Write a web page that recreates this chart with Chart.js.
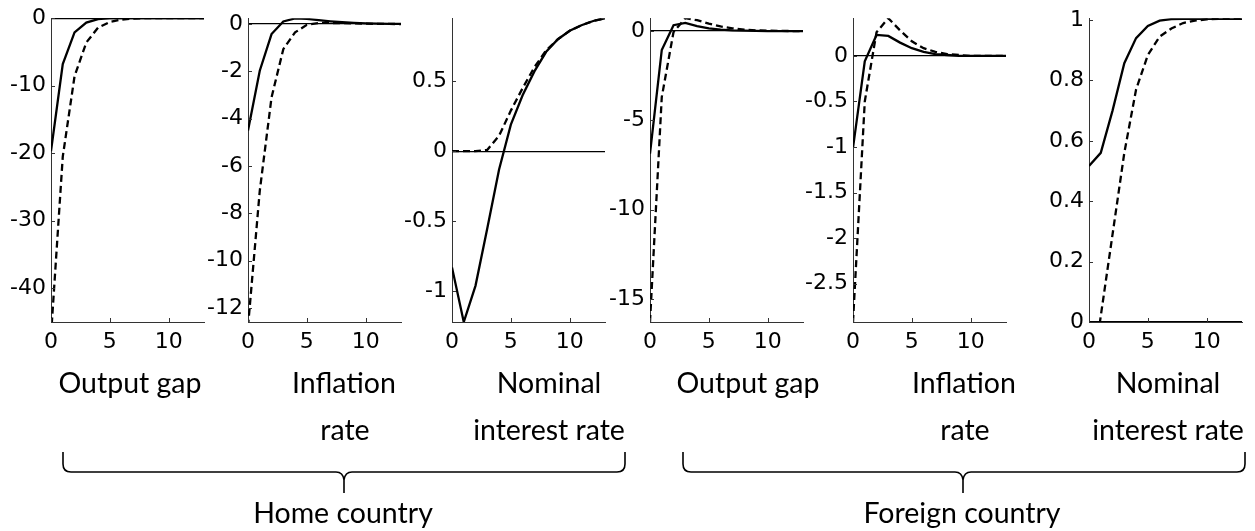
<!DOCTYPE html>
<html>
<head>
<meta charset="utf-8">
<script src="https://cdn.jsdelivr.net/npm/chart.js@4.4.0/dist/chart.umd.min.js"></script>
<style>
  html, body { margin: 0; padding: 0; background: #fff; }
  #wrap { position: relative; width: 1255px; height: 531px; overflow: hidden; }
  #wrap canvas { position: absolute; top: 0; }
  #labels { position: absolute; left: 0; top: 0; }
  #labels text { font-family: Lato, "Open Sans", sans-serif; font-size: 28.5px; fill: #000; }
</style>
</head>
<body>
<div id="wrap">
  <svg id="labels" width="1255" height="531">
    <text x="130" y="393" text-anchor="middle">Output gap</text>
    <text x="344" y="393" text-anchor="middle">Inflation</text>
    <text x="345" y="440" text-anchor="middle">rate</text>
    <text x="549" y="393" text-anchor="middle">Nominal</text>
    <text x="549" y="440" text-anchor="middle">interest rate</text>
    <text x="748" y="393" text-anchor="middle">Output gap</text>
    <text x="964" y="393" text-anchor="middle">Inflation</text>
    <text x="965" y="440" text-anchor="middle">rate</text>
    <text x="1168" y="393" text-anchor="middle">Nominal</text>
    <text x="1168" y="440" text-anchor="middle">interest rate</text>
    <text x="343" y="523" text-anchor="middle">Home country</text>
    <text x="962" y="523" text-anchor="middle">Foreign country</text>
    <path fill="none" stroke="#000" stroke-width="1.6"
      d="M63,452 L63,464 Q63,472 71,472 L336,472 Q343,472 344,480 L344,493 M344,480 Q345,472 352,472 L617,472 Q625,472 625,464 L625,452" />
    <path fill="none" stroke="#000" stroke-width="1.6"
      d="M683,452 L683,464 Q683,472 691,472 L955,472 Q962,472 963,480 L963,493 M963,480 Q964,472 971,472 L1237,472 Q1245,472 1245,464 L1245,452" />
  </svg>
</div>
<script>
// periods after the shock
const periods = [0, 1, 2, 3, 4, 5, 6, 7, 8, 9, 10, 11, 12, 13];

// home country
const homeGapSolid   = [-19.7, -6.8, -2.1, -0.65, -0.15, 0.02, 0.03, 0.02, 0.01, 0, 0, 0, 0, 0];
const homeGapDashed  = [-47, -20.5, -8.6, -3.6, -1.4, -0.55, -0.2, -0.05, 0, 0, 0, 0, 0, 0];
const homeInfSolid   = [-4.5, -1.97, -0.42, 0.11, 0.24, 0.22, 0.17, 0.12, 0.08, 0.05, 0.03, 0.02, 0.01, 0.01];
const homeInfDashed  = [-12.8, -7.05, -3.1, -1.06, -0.35, -0.03, 0.05, 0.05, 0.04, 0.03, 0.02, 0.01, 0.01, 0];
const homeRateSolid  = [-0.83, -1.22, -0.96, -0.55, -0.13, 0.19, 0.40, 0.57, 0.71, 0.80, 0.86, 0.90, 0.93, 0.95];
const homeRateDashed = [0, 0, 0, 0.01, 0.11, 0.29, 0.45, 0.60, 0.72, 0.80, 0.86, 0.90, 0.93, 0.95];

// foreign country
const forGapSolid   = [-6.87, -1.06, 0.33, 0.46, 0.28, 0.15, 0.08, 0.04, 0.02, 0.01, 0, 0, 0, 0];
const forGapDashed  = [-16.3, -3.7, -0.05, 0.72, 0.61, 0.42, 0.26, 0.15, 0.08, 0.04, 0.02, 0.01, 0, 0];
const forInfSolid   = [-1.01, -0.06, 0.23, 0.22, 0.146, 0.085, 0.045, 0.02, 0.01, 0, 0, 0, 0, 0];
const forInfDashed  = [-2.92, -0.5, 0.26, 0.414, 0.28, 0.16, 0.085, 0.045, 0.02, 0.01, 0, 0, 0, 0];
const forRateSolid  = [0.517, 0.56, 0.70, 0.857, 0.94, 0.98, 0.998, 1.003, 1.004, 1.004, 1.004, 1.004, 1.004, 1.004];
const forRateDashed = [-0.26, 0.02, 0.29, 0.56, 0.77, 0.884, 0.945, 0.972, 0.99, 0.998, 1.002, 1.004, 1.004, 1.004];

// axis ranges and tick labels
const xTicks = [0, 5, 10];
const xMax = 13;
const yRanges = [[-45, 0], [-12.6, 0.25], [-1.22, 0.95], [-16.3, 0.72], [-2.92, 0.414], [0, 1.006]];
const yTicks = [
  [-40, -30, -20, -10, 0],
  [-12, -10, -8, -6, -4, -2, 0],
  [-1, -0.5, 0, 0.5],
  [-15, -10, -5, 0],
  [-2.5, -2, -1.5, -1, -0.5, 0],
  [0, 0.2, 0.4, 0.6, 0.8, 1]
];

// where each plot area sits on the page
const plotLeft = [51, 248, 452, 650, 853, 1089];
const plotWidth = 153;
const yAxisW = 50;
const canvasH = 360;
const plotTop = 18;
const plotBottom = 322;

const series = [
  [homeGapSolid, homeGapDashed],
  [homeInfSolid, homeInfDashed],
  [homeRateSolid, homeRateDashed],
  [forGapSolid, forGapDashed],
  [forInfSolid, forInfDashed],
  [forRateSolid, forRateDashed]
];

const tickFont = { family: '"DejaVu Sans", "Liberation Sans", sans-serif', size: 22 };

// MATLAB style ticks pointing into the plot
const innerTicks = {
  id: 'innerTicks',
  afterDraw(chart) {
    const { ctx, chartArea, scales: { x, y } } = chart;
    ctx.save();
    ctx.strokeStyle = '#333';
    ctx.lineWidth = 1;
    ctx.beginPath();
    x.ticks.forEach(t => {
      const px = Math.round(x.getPixelForValue(t.value)) + 0.5;
      ctx.moveTo(px, chartArea.bottom);
      ctx.lineTo(px, chartArea.bottom - 4);
    });
    y.ticks.forEach(t => {
      const py = Math.round(y.getPixelForValue(t.value)) + 0.5;
      ctx.moveTo(chartArea.left, py);
      ctx.lineTo(chartArea.left + 4, py);
    });
    ctx.stroke();
    ctx.restore();
  }
};

const toPoints = vals => vals.map((v, i) => ({ x: periods[i], y: v }));

const wrap = document.getElementById('wrap');
const svg = document.getElementById('labels');

series.forEach((pair, i) => {
  const canvas = document.createElement('canvas');
  canvas.width = yAxisW + plotWidth + 8;
  canvas.height = canvasH;
  canvas.style.left = (plotLeft[i] - yAxisW) + 'px';
  wrap.insertBefore(canvas, svg);

  new Chart(canvas, {
    type: 'line',
    data: {
      datasets: [
        { data: toPoints(pair[0]), borderColor: '#000', borderWidth: 2.3, pointRadius: 0, tension: 0 },
        { data: toPoints(pair[1]), borderColor: '#000', borderWidth: 2.3, borderDash: [7, 4], pointRadius: 0, tension: 0 }
      ]
    },
    options: {
      responsive: false,
      animation: false,
      layout: { padding: { top: plotTop, right: 8, left: 0, bottom: 0 } },
      plugins: { legend: { display: false }, tooltip: { enabled: false } },
      scales: {
        x: {
          type: 'linear',
          min: 0,
          max: xMax,
          afterBuildTicks: s => { s.ticks = xTicks.map(v => ({ value: v })); },
          afterFit: s => { s.height = canvasH - plotBottom; },
          grid: { display: false, drawTicks: false },
          border: { display: true, color: '#333', width: 1 },
          ticks: { color: '#000', font: tickFont, padding: 7, maxRotation: 0, callback: v => String(v) }
        },
        y: {
          type: 'linear',
          min: yRanges[i][0],
          max: yRanges[i][1],
          afterBuildTicks: s => { s.ticks = yTicks[i].map(v => ({ value: v })); },
          afterFit: s => { s.width = yAxisW; },
          grid: {
            drawTicks: false,
            color: c => (c.tick && c.tick.value === 0 ? '#000' : 'rgba(0,0,0,0)'),
            lineWidth: 1.3
          },
          border: { display: true, color: '#333', width: 1 },
          ticks: { color: '#000', font: tickFont, padding: 5, callback: v => String(v) }
        }
      }
    },
    plugins: [innerTicks]
  });
});
</script>
</body>
</html>
